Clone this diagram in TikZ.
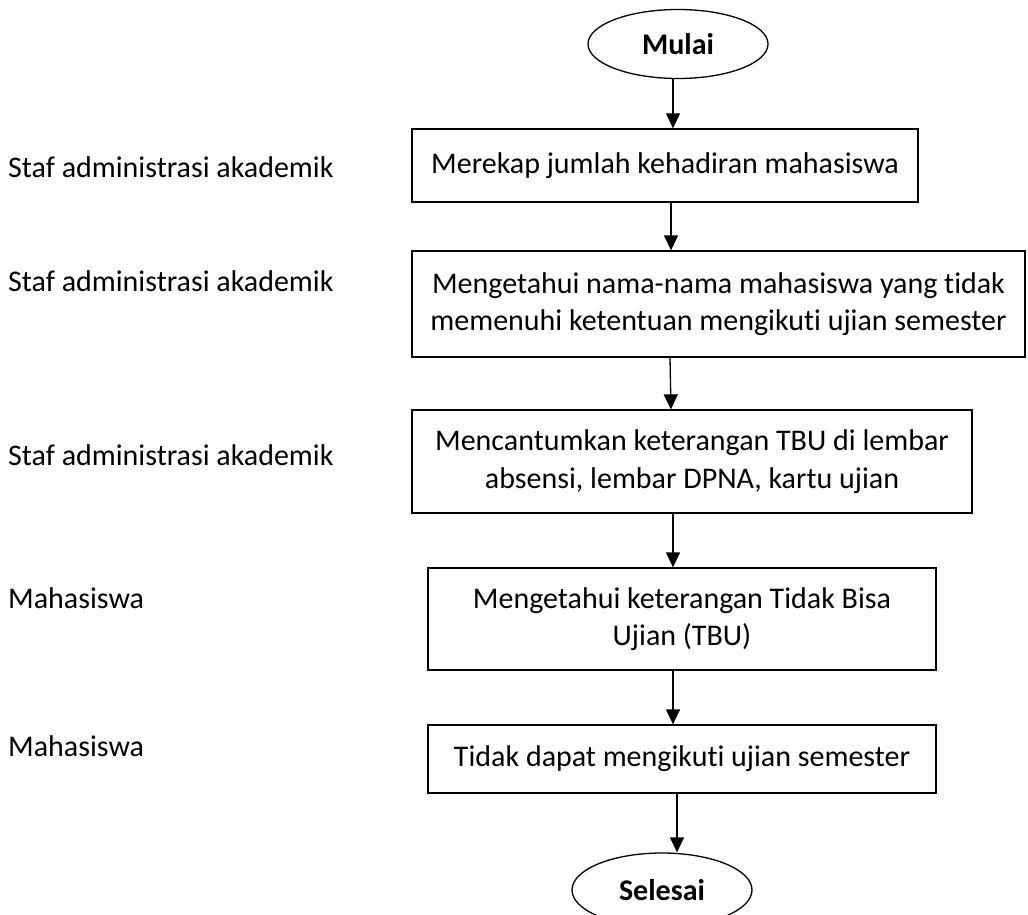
\documentclass[tikz,border=0pt]{standalone}
\usepackage{fontspec}
\setmainfont{Carlito}[RawFeature=-liga]
\usetikzlibrary{arrows.meta,shapes.geometric}
\begin{document}
\begin{tikzpicture}[x=1pt,y=-1pt,
  every node/.style={font=\fontsize{30}{37.5}\selectfont},
  procbox/.style={draw,line width=1.3pt,align=center,inner sep=0pt},
  term/.style={draw,ellipse,line width=1.3pt,inner sep=0pt,font=\fontsize{30}{37.5}\selectfont\bfseries},
  lbl/.style={anchor=west,inner sep=0pt},
  flow/.style={line width=1.3pt,-{Triangle[width=14pt,length=15pt]}}]
\useasboundingbox (0,0) rectangle (1028,915);
\node[term,minimum width=180pt,minimum height=69pt] (start) at (678,44) {Mulai};
\node[procbox,minimum width=506pt,minimum height=73pt] (b1) at (665,165.5) {Merekap jumlah kehadiran mahasiswa};
\node[procbox,minimum width=613pt,minimum height=106pt] (b2) at (718.5,304) {Mengetahui nama-nama mahasiswa yang tidak\\memenuhi ketentuan mengikuti ujian semester};
\node[procbox,minimum width=560pt,minimum height=103pt] (b3) at (692,461.5) {Mencantumkan keterangan TBU di lembar\\absensi, lembar DPNA, kartu ujian};
\node[procbox,minimum width=508pt,minimum height=102pt] (b4) at (682,619) {Mengetahui keterangan Tidak Bisa\\Ujian (TBU)};
\node[procbox,minimum width=508pt,minimum height=68pt] (b5) at (682,759) {Tidak dapat mengikuti ujian semester};
\node[term,minimum width=180pt,minimum height=74pt] (end) at (662,890) {Selesai};
\node[lbl] (l1) at (8,167) {Staf administrasi akademik};
\node[lbl] (l2) at (8,281) {Staf administrasi akademik};
\node[lbl] (l3) at (8,455) {Staf administrasi akademik};
\node[lbl] (l4) at (8,598) {Mahasiswa};
\node[lbl] (l5) at (8,746) {Mahasiswa};
\draw[flow] (start.south -| 673,0) -- (b1.north -| 673,0);
\draw[flow] (b1.south -| 671,0) -- (b2.north -| 671,0);
\draw[flow] (b2.south -| 670,0) -- (b3.north -| 671,0);
\draw[flow] (b3.south -| 673,0) -- (b4.north -| 673,0);
\draw[flow] (b4.south -| 673,0) -- (b5.north -| 673,0);
\draw[flow] (b5.south -| 677,0) -- (end.north -| 677,0);
\end{tikzpicture}
\end{document}
